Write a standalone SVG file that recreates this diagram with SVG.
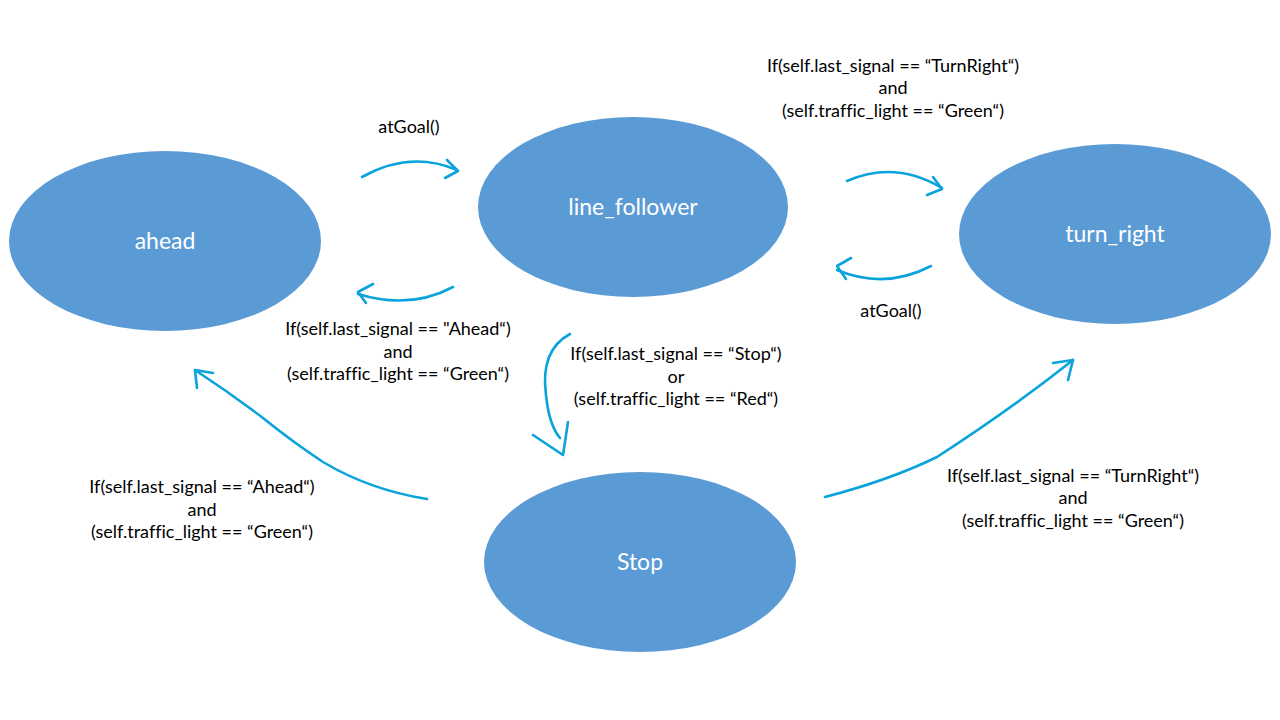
<svg xmlns="http://www.w3.org/2000/svg" width="1280" height="720" viewBox="0 0 1280 720">
<style>
.node{fill:#5B9BD5;}
.nl{font-family:Lato,"Open Sans",sans-serif;font-size:23px;fill:#ffffff;text-anchor:middle;font-variant-ligatures:none;}
.lb{font-family:Lato,"Open Sans",sans-serif;font-size:18px;fill:#000000;text-anchor:middle;font-variant-ligatures:none;}
.c{fill:none;stroke:#0AA3DC;stroke-width:2.6;stroke-linecap:round;stroke-linejoin:round;}
</style>
<rect width="1280" height="720" fill="#ffffff"/>
<g id="ahead"><ellipse class="node" cx="165" cy="241" rx="156" ry="90"/><text class="nl" x="165" y="249">ahead</text></g>
<g id="line_follower"><ellipse class="node" cx="633" cy="207" rx="155" ry="90"/><text class="nl" x="633" y="215">line_follower</text></g>
<g id="turn_right"><ellipse class="node" cx="1115" cy="234" rx="156" ry="90"/><text class="nl" x="1115" y="242">turn_right</text></g>
<g id="Stop"><ellipse class="node" cx="640" cy="562" rx="156" ry="90"/><text class="nl" x="640" y="570">Stop</text></g>
<g id="connectors">
<path class="c" d="M362,177 Q410,150 457,170"/>
<path class="c" d="M447,160 L458,171 L445,178"/>
<path class="c" d="M453,287 Q410,310 358,294"/>
<path class="c" d="M373,284 L358,292 L366,303"/>
<path class="c" d="M847,181 Q895,160 942,188"/>
<path class="c" d="M933,177 L942,189 L927,195"/>
<path class="c" d="M931,266 Q885,290 837,270"/>
<path class="c" d="M851,258 L837,266 L846,279"/>
<path class="c" d="M570,334 Q540,350 546,395 Q549,425 560,438"/>
<path class="c" d="M533,435 L563,455 L568,422"/>
<path class="c" d="M427,499 Q370,490 323,462 Q290,440 263,418 Q230,393 195,370"/>
<path class="c" d="M213,373 L195,370 L197,388"/>
<path class="c" d="M825,497 Q890,480 937,457 Q1010,410 1073,360"/>
<path class="c" d="M1053,363 L1073,360 L1068,380"/>
</g>
<g id="labels">
<text class="lb" x="409" y="133">atGoal()</text>
<text class="lb" x="891" y="317">atGoal()</text>
<text class="lb" x="893" y="72">If(self.last_signal == “TurnRight“)</text>
<text class="lb" x="893" y="94">and</text>
<text class="lb" x="893" y="117">(self.traffic_light == “Green“)</text>
<text class="lb" x="398" y="335">If(self.last_signal == "Ahead“)</text>
<text class="lb" x="398" y="358">and</text>
<text class="lb" x="398" y="380">(self.traffic_light == “Green“)</text>
<text class="lb" x="676" y="360">If(self.last_signal == “Stop“)</text>
<text class="lb" x="676" y="383">or</text>
<text class="lb" x="676" y="405">(self.traffic_light == “Red“)</text>
<text class="lb" x="202" y="493">If(self.last_signal == “Ahead“)</text>
<text class="lb" x="202" y="516">and</text>
<text class="lb" x="202" y="538">(self.traffic_light == “Green“)</text>
<text class="lb" x="1073" y="482">If(self.last_signal == “TurnRight“)</text>
<text class="lb" x="1073" y="504">and</text>
<text class="lb" x="1073" y="527">(self.traffic_light == “Green“)</text>
</g>
</svg>
